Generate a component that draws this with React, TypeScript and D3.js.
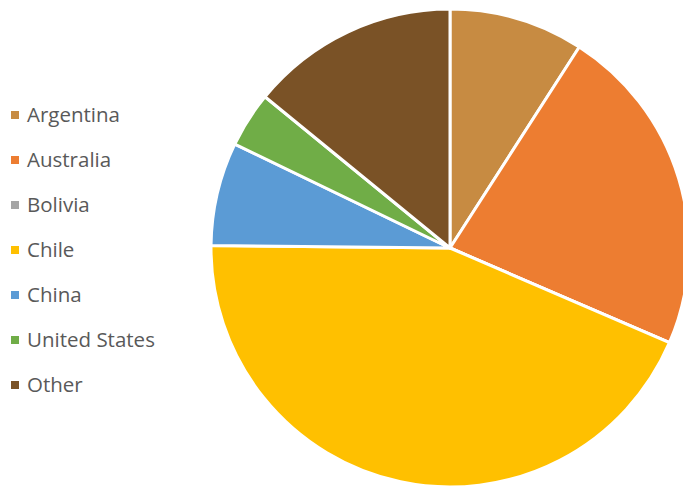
import React from "react";
import * as d3 from "d3";

const categories = ["Argentina", "Australia", "Bolivia", "Chile", "China", "United States", "Other"];
const values = [9.1, 22.4, 0, 43.7, 7.0, 3.75, 14.1];
const colors = ["#C78B42", "#ED7D31", "#A5A5A5", "#FFC000", "#5B9BD5", "#70AD47", "#7A5226"];

export default function App() {
  const width = 683;
  const height = 487;
  const cx = 450;
  const cy = 248;
  const r = 239;
  const pie = d3.pie<number>().sort(null).value((d) => d)(values);
  const arc = d3.arc<d3.PieArcDatum<number>>().innerRadius(0).outerRadius(r);
  const legendY = d3.scalePoint<string>().domain(categories).range([115, 385]);
  return (
    <svg
      width={width}
      height={height}
      style={{ position: "absolute", left: 0, top: 0, background: "#fff" }}
    >
      <g transform={`translate(${cx},${cy})`}>
        {pie.map((p, i) => (
          <path key={i} d={arc(p) || ""} fill={colors[i]} stroke="#fff" strokeWidth={3} strokeLinejoin="round" />
        ))}
      </g>
      <g>
        {categories.map((c, i) => (
          <g key={c} transform={`translate(0,${legendY(c)})`}>
            <rect x={11} y={-4} width={8} height={8} fill={colors[i]} />
            <text x={27} y={7} fontFamily="Open Sans, sans-serif" fontSize={20.5} fill="#595959">
              {c}
            </text>
          </g>
        ))}
      </g>
    </svg>
  );
}
